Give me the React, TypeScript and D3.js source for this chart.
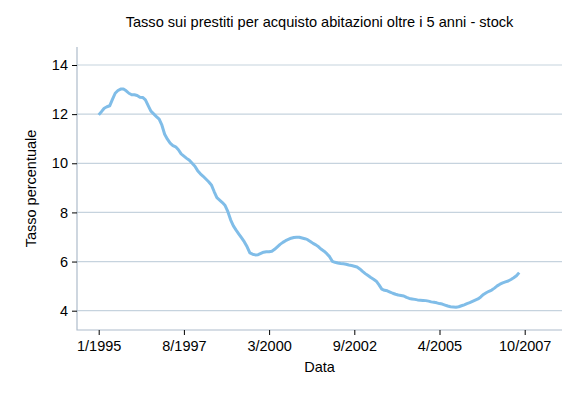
import React, { useRef, useEffect } from 'react';
import * as d3 from 'd3';

// monthly values, 1/1995 .. 10/2007
const tassi = [
  11.97, 12.1, 12.24, 12.3, 12.34, 12.6, 12.85, 12.96, 13.02, 13.02, 12.95, 12.85,
  12.79, 12.79, 12.76, 12.69, 12.68, 12.58, 12.35, 12.12, 12.01, 11.9, 11.8, 11.55,
  11.18, 10.98, 10.82, 10.72, 10.67, 10.55, 10.38, 10.29, 10.2, 10.12, 10.0, 9.88,
  9.7, 9.57, 9.47, 9.36, 9.25, 9.12, 8.85, 8.6, 8.5, 8.4, 8.28, 8.03,
  7.7, 7.45, 7.28, 7.12, 6.96, 6.8, 6.6, 6.35, 6.3, 6.27, 6.28, 6.33,
  6.38, 6.4, 6.4, 6.42, 6.5, 6.6, 6.7, 6.78, 6.85, 6.9, 6.95, 6.98,
  6.99, 6.99, 6.96, 6.93, 6.89, 6.82, 6.74, 6.68, 6.6, 6.5, 6.42, 6.32,
  6.2, 6.01, 5.97, 5.94, 5.92, 5.91, 5.89, 5.86, 5.84, 5.81, 5.78, 5.7,
  5.6, 5.51, 5.43, 5.35, 5.28, 5.2, 5.05, 4.88, 4.83, 4.81, 4.76, 4.71,
  4.67, 4.64, 4.62, 4.6, 4.54, 4.5, 4.48, 4.46, 4.44, 4.43, 4.42, 4.41,
  4.39, 4.36, 4.34, 4.32, 4.29, 4.27, 4.23, 4.19, 4.16, 4.15, 4.14, 4.16,
  4.2, 4.24, 4.29, 4.33, 4.38, 4.43, 4.48, 4.56, 4.66, 4.73, 4.79, 4.84,
  4.92, 5.01, 5.08, 5.13, 5.17, 5.21, 5.27, 5.34, 5.42, 5.55,
];

const xTickPos = [0, 31, 62, 93, 124, 155];
const xTickLabels = ['1/1995', '8/1997', '3/2000', '9/2002', '4/2005', '10/2007'];
const yTicks = [4, 6, 8, 10, 12, 14];

const title = 'Tasso sui prestiti per acquisto abitazioni oltre i 5 anni - stock';
const font = '"Liberation Sans", Arial, sans-serif';

const Chart = () => {
  const svgRef = useRef(null);
  useEffect(() => {
    d3.select(svgRef.current).selectAll('*').remove();
    const svg = d3.select(svgRef.current);
    const plot = { left: 77, right: 562, top: 47, bottom: 330 };

    const x = d3.scaleLinear().domain([0, 155]).range([98.7, 524.7]);
    const y = d3.scaleLinear().domain([4, 14]).range([310.7, 65]);

    // gridlines
    svg
      .append('g')
      .selectAll('line')
      .data(yTicks)
      .join('line')
      .attr('x1', plot.left)
      .attr('x2', plot.right)
      .attr('y1', (d) => y(d))
      .attr('y2', (d) => y(d))
      .attr('stroke', '#c6d3de')
      .attr('stroke-width', 1.2);

    // frame lines
    svg
      .append('path')
      .attr('d', `M${plot.left},${plot.top}V${plot.bottom}H${plot.right}`)
      .attr('fill', 'none')
      .attr('stroke', '#aebccb')
      .attr('stroke-width', 1.2);

    const y_axis = d3
      .axisLeft(y)
      .tickValues(yTicks)
      .tickSize(5)
      .tickPadding(4)
      .tickFormat((d) => d);

    const gy = svg
      .append('g')
      .attr('transform', `translate(${plot.left},0)`)
      .call(y_axis)
      .style('font-size', '14.5px')
      .style('font-family', font);
    gy.select('.domain').remove();
    gy.selectAll('.tick line').attr('stroke', '#000');
    gy.selectAll('.tick text').attr('fill', '#000');

    const x_axis = d3
      .axisBottom(x)
      .tickValues(xTickPos)
      .tickSize(5)
      .tickPadding(6)
      .tickFormat((d, i) => xTickLabels[i]);

    const gx = svg
      .append('g')
      .attr('transform', `translate(0,${plot.bottom})`)
      .call(x_axis)
      .style('font-size', '14.5px')
      .style('font-family', font);
    gx.select('.domain').remove();
    gx.selectAll('.tick line').attr('stroke', '#000');
    gx.selectAll('.tick text').attr('fill', '#000');

    // the series
    const line = d3
      .line()
      .x((d, i) => x(i))
      .y((d) => y(d));

    svg
      .append('path')
      .datum(tassi)
      .attr('d', line)
      .attr('fill', 'none')
      .attr('stroke', '#80bde8')
      .attr('stroke-width', 3)
      .attr('stroke-linejoin', 'round');

    // titles
    svg
      .append('text')
      .attr('x', (plot.left + plot.right) / 2)
      .attr('y', 27)
      .attr('text-anchor', 'middle')
      .style('font-family', font)
      .style('font-size', '14.6px')
      .text(title);

    svg
      .append('text')
      .attr('x', (plot.left + plot.right) / 2)
      .attr('y', 372)
      .attr('text-anchor', 'middle')
      .style('font-family', font)
      .style('font-size', '14.5px')
      .text('Data');

    svg
      .append('text')
      .attr('transform', `translate(36,${(plot.top + plot.bottom) / 2}) rotate(-90)`)
      .attr('text-anchor', 'middle')
      .style('font-family', font)
      .style('font-size', '14.5px')
      .text('Tasso percentuale');
  }, []);

  return <svg ref={svgRef} width={578} height={396} style={{ display: 'block' }}></svg>;
};

export default function App() {
  return (
    <div style={{ position: 'absolute', left: 0, top: 0, background: '#fff' }}>
      <Chart />
    </div>
  );
}
